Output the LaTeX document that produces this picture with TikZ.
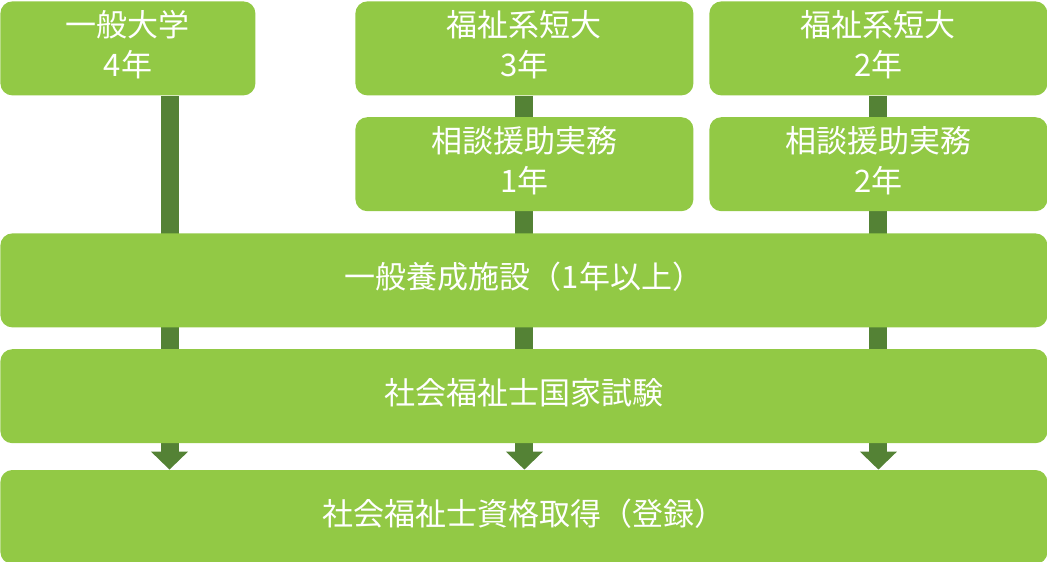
\documentclass[tikz,border=0pt]{standalone}
\usepackage{fontspec}
\setmainfont{Noto Sans CJK JP}
\usetikzlibrary{arrows.meta,positioning,backgrounds}
\definecolor{boxgreen}{HTML}{92C945}
\definecolor{bargreen}{HTML}{548235}

\begin{document}
\begin{tikzpicture}[x=0.5pt, y=-0.5pt,
  box/.style={fill=boxgreen, rounded corners=6pt, inner sep=0pt, align=center, text=white, font=\fontsize{15.5pt}{20pt}\selectfont, minimum height=47pt, execute at end node={\rule[-5pt]{0pt}{5pt}}},
  narrow/.style={box, minimum width=127.5pt},
  mid/.style={box, minimum width=169pt},
  wide/.style={box, minimum width=523.5pt},
  flow/.style={line width=9pt, bargreen, -{Triangle[width=18pt, length=9pt]}}
]
  \useasboundingbox (0,0) rectangle (1047,561);

  % routes
  \node[narrow, anchor=north west] (univ) at (0,1) {一般大学\\4年};
  \node[mid, anchor=north west] (short3) at (355,1) {福祉系短大\\3年};
  \node[mid, anchor=north west] (short2) at (709,1) {福祉系短大\\2年};
  \node[mid, below=10.5pt of short3] (work1) {相談援助実務\\1年};
  \node[mid, below=10.5pt of short2] (work2) {相談援助実務\\2年};

  % common steps
  \node[wide, anchor=north west] (school) at (0,233) {一般養成施設（1年以上）};
  \node[wide, below=10.5pt of school] (exam) {社会福祉士国家試験};
  \node[wide, below=13pt of exam] (license) {社会福祉士資格取得（登録）};

  \coordinate (univout) at (169.5,96);

  \begin{scope}[on background layer]
    \draw[flow] (univout) -- (univout |- license.north);
    \draw[flow] (short3.south) -- (short3.south |- license.north);
    \draw[flow] (short2.south) -- (short2.south |- license.north);
  \end{scope}
\end{tikzpicture}
\end{document}
